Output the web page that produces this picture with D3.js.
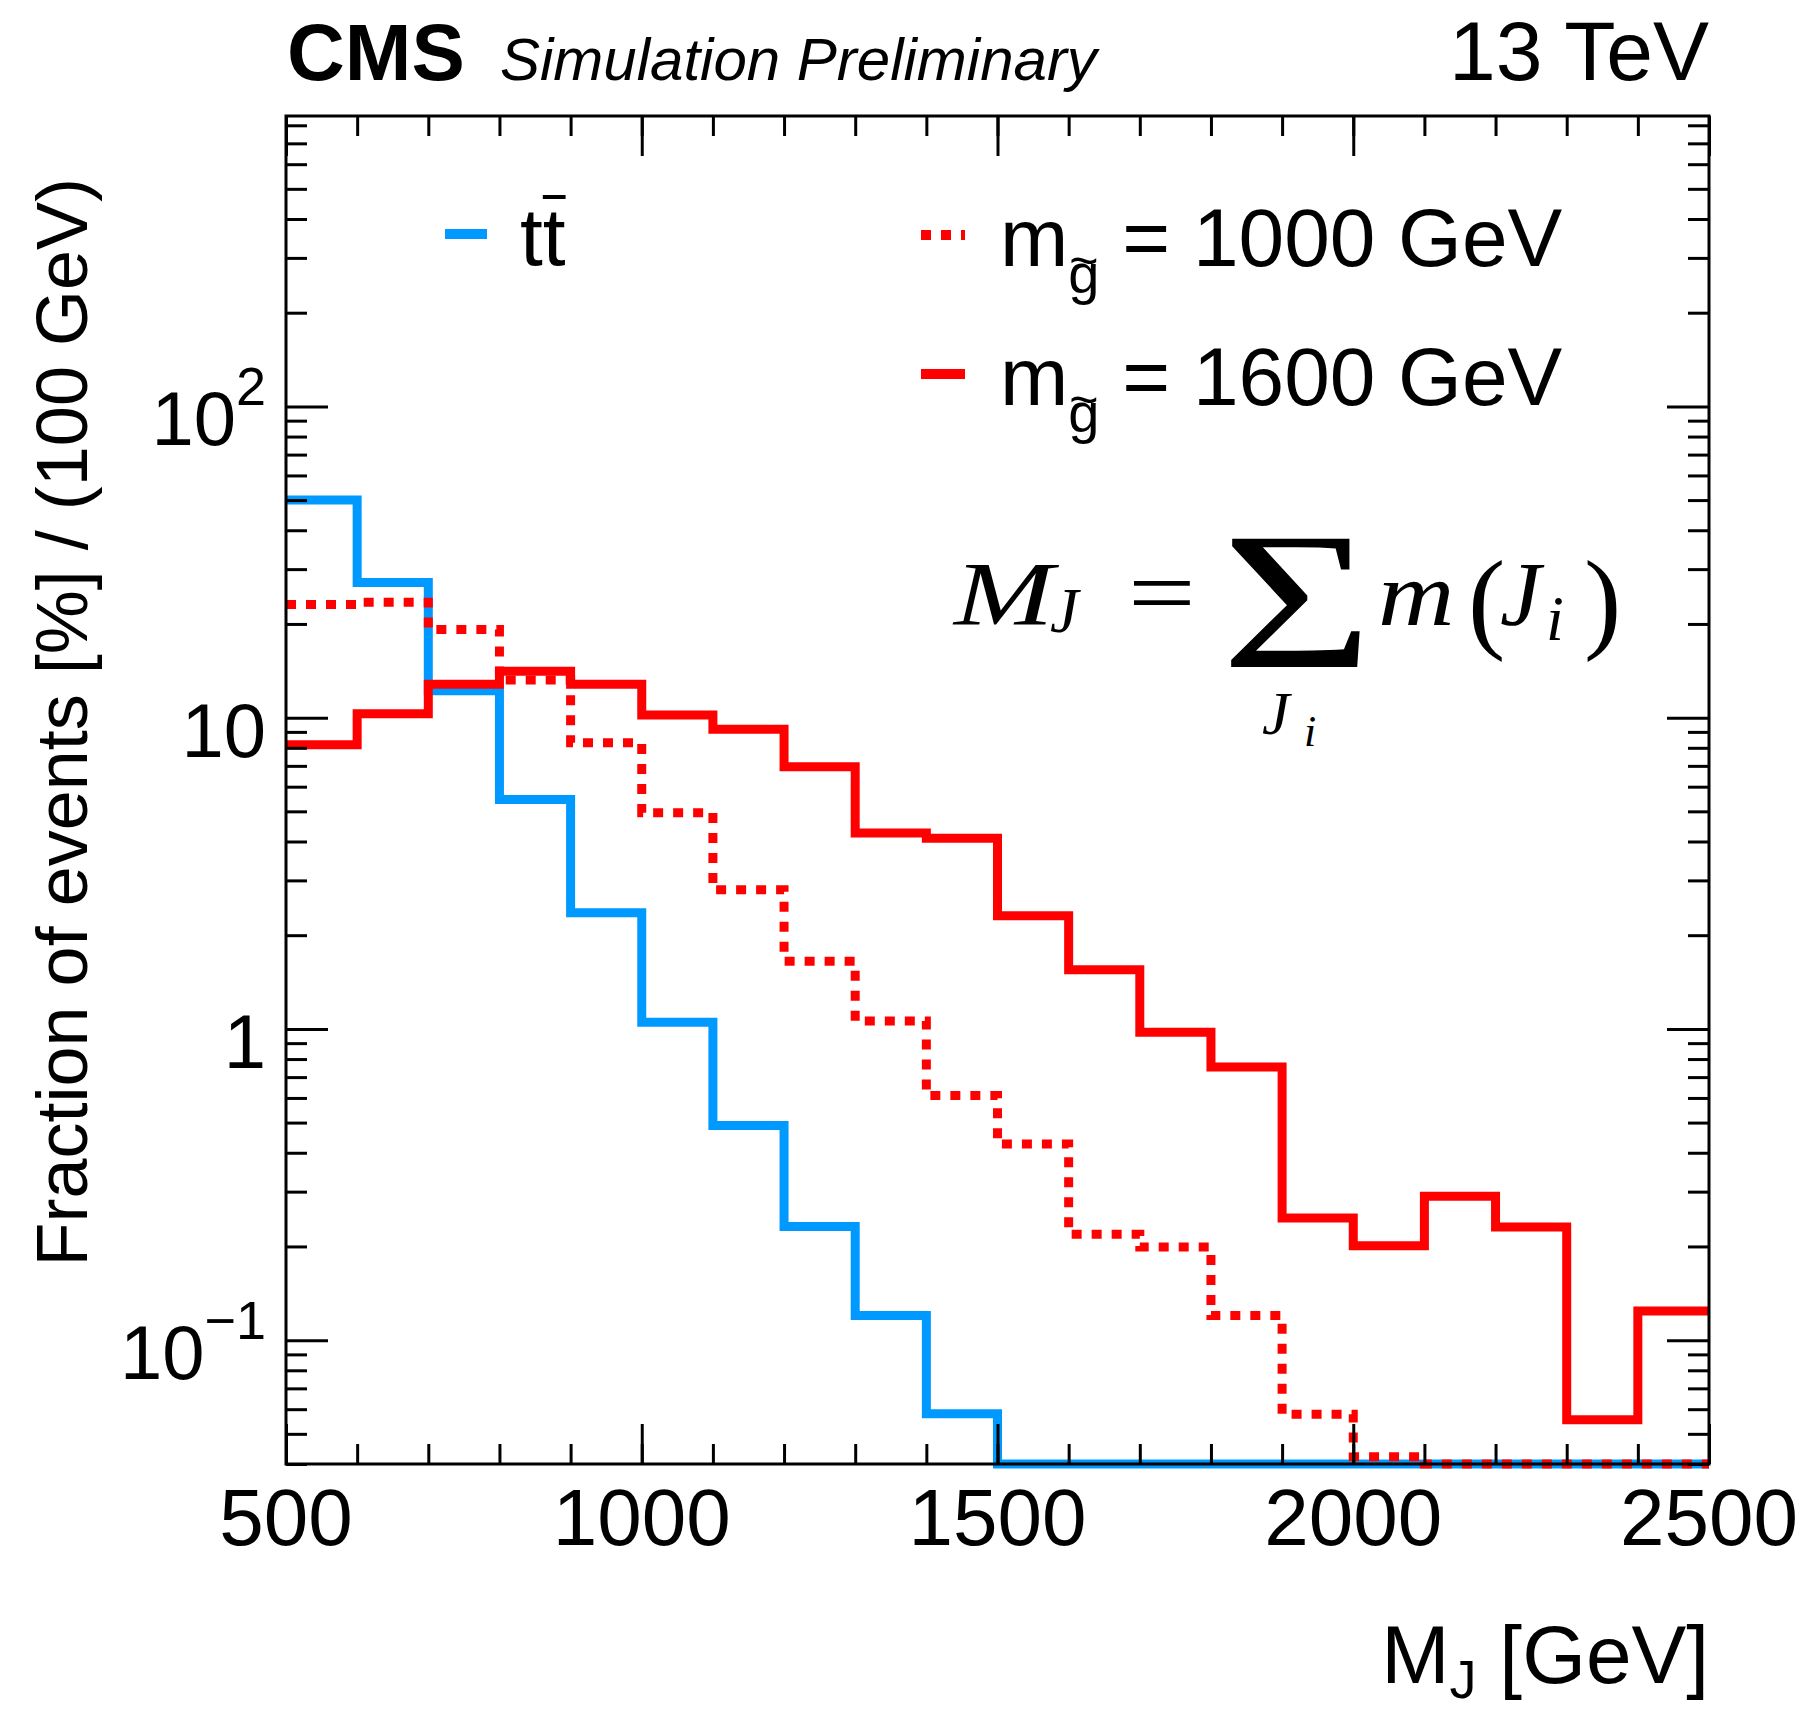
<!doctype html>
<meta charset="utf-8">
<style>
    body { margin: 0; background: #fff; }
    svg text { font-family: "Liberation Sans", Arial, sans-serif; fill: #000; }
    svg text.math { font-family: "Liberation Serif", "DejaVu Serif", serif; }
</style>
<body>
<script src="https://d3js.org/d3.v7.min.js"></script>
<script>
    // bin edges of M_J [GeV], 100 GeV bins
    const binEdges = [500, 600, 700, 800, 900, 1000, 1100, 1200, 1300, 1400, 1500,
                      1600, 1700, 1800, 1900, 2000, 2100, 2200, 2300, 2400, 2500];
    // fraction of events [%] per bin (0 = empty bin, drawn on the frame bottom)
    const ttbar = [50.0, 27.2, 12.2, 5.46, 2.36, 1.05, 0.489, 0.232, 0.120, 0.058,
                   0, 0, 0, 0, 0, 0, 0, 0, 0, 0];
    const gluino1000 = [23.1, 23.5, 19.2, 13.2, 8.3, 4.95, 2.80, 1.65, 1.06, 0.611,
                        0.427, 0.219, 0.199, 0.120, 0.0578, 0.0422, 0, 0, 0, 0];
    const gluino1600 = [8.18, 10.3, 12.8, 14.1, 12.8, 10.2, 9.18, 6.96, 4.26, 4.10,
                        2.31, 1.55, 0.975, 0.755, 0.247, 0.201, 0.290, 0.231, 0.0555, 0.124];
    const xTickLabels = [500, 1000, 1500, 2000, 2500];
    const yTickLabels = [[100, '10', '2'], [10, '10', ''], [1, '1', ''], [0.1, '10', '\u22121']];
    const yRange = [0.04, 857];

    const margin = {top: 116, right: 105, bottom: 246, left: 286};
    const width = 1814 - margin.left - margin.right;
    const height = 1710 - margin.top - margin.bottom;

    const x = d3.scaleLinear().domain([500, 2500]).range([0, width]);
    const y = d3.scaleLog().domain(yRange).range([height, 0]);

    const root = d3.select('body').append('svg')
        .attr('width', 1814)
        .attr('height', 1710);
    const svg = root.append('g')
        .attr('transform', `translate(${margin.left}, ${margin.top})`);

    // step histogram, values under the axis minimum sit on the bottom
    const steps = vals => {
        const pts = [];
        vals.forEach((v, i) => {
            const c = Math.max(v, yRange[0]);
            pts.push([binEdges[i], c], [binEdges[i + 1], c]);
        });
        return pts;
    };
    const line = d3.line().x(d => x(d[0])).y(d => y(d[1]));

    const series = [
        {vals: ttbar, color: '#0099ff', dash: null},
        {vals: gluino1000, color: '#ff0000', dash: '10 10'},
        {vals: gluino1600, color: '#ff0000', dash: null}
    ];
    series.forEach(s => {
        svg.append('path')
            .attr('d', line(steps(s.vals)))
            .attr('fill', 'none')
            .attr('stroke', s.color)
            .attr('stroke-width', 9)
            .attr('stroke-dasharray', s.dash)
            .attr('stroke-linejoin', 'miter');
    });

    // ticks on all four sides, pointing inwards
    const xMinor = x.ticks(20), xMajor = x.ticks(4);
    const yAll = y.ticks();
    const yMajor = yAll.filter(v => Math.abs(Math.log10(v) - Math.round(Math.log10(v))) < 1e-9);
    const yMinor = yAll.filter(v => !yMajor.includes(v));

    const addAxis = (axis, transform) => {
        const g = svg.append('g').attr('transform', transform).call(axis);
        g.select('.domain').remove();
        g.selectAll('line').attr('stroke', '#000').attr('stroke-width', 3);
    };
    addAxis(d3.axisBottom(x).tickValues(xMinor).tickSize(-20).tickFormat(''), `translate(0, ${height})`);
    addAxis(d3.axisBottom(x).tickValues(xMajor).tickSize(-40).tickFormat(''), `translate(0, ${height})`);
    addAxis(d3.axisTop(x).tickValues(xMinor).tickSize(-20).tickFormat(''), 'translate(0, 0)');
    addAxis(d3.axisTop(x).tickValues(xMajor).tickSize(-40).tickFormat(''), 'translate(0, 0)');
    addAxis(d3.axisLeft(y).tickValues(yMinor).tickSize(-21).tickFormat(''), 'translate(0, 0)');
    addAxis(d3.axisLeft(y).tickValues(yMajor).tickSize(-42).tickFormat(''), 'translate(0, 0)');
    addAxis(d3.axisRight(y).tickValues(yMinor).tickSize(-21).tickFormat(''), `translate(${width}, 0)`);
    addAxis(d3.axisRight(y).tickValues(yMajor).tickSize(-42).tickFormat(''), `translate(${width}, 0)`);

    svg.append('rect')
        .attr('width', width).attr('height', height)
        .attr('fill', 'none').attr('stroke', '#000').attr('stroke-width', 3);

    // tick labels
    svg.selectAll('.xlab').data(xTickLabels).enter().append('text')
        .attr('x', d => x(d)).attr('y', height + 81)
        .attr('text-anchor', 'middle').attr('font-size', 80)
        .text(d => d);
    yTickLabels.forEach(([v, base, sup]) => {
        const t = svg.append('text')
            .attr('x', -20).attr('y', y(v) + 39)
            .attr('text-anchor', 'end').attr('font-size', 76);
        t.append('tspan').text(base);
        if (sup) t.append('tspan').attr('font-size', 54).attr('dy', -40).text(sup);
    });

    // axis titles
    const xt = root.append('text').attr('x', 1709).attr('y', 1683)
        .attr('text-anchor', 'end').attr('font-size', 82);
    xt.append('tspan').text('M');
    xt.append('tspan').attr('font-size', 54).attr('dy', 15).text('J');
    xt.append('tspan').attr('dy', -15).text(' [GeV]');

    root.append('text')
        .attr('transform', 'translate(87, 178) rotate(-90)')
        .attr('text-anchor', 'end').attr('font-size', 72)
        .text('Fraction of events [%] / (100 GeV)');

    // header
    root.append('text').attr('x', 287).attr('y', 80)
        .attr('font-size', 80).attr('font-weight', 'bold').text('CMS');
    root.append('text').attr('x', 500).attr('y', 80)
        .attr('font-size', 60).attr('font-style', 'italic').text('Simulation Preliminary');
    root.append('text').attr('x', 1709).attr('y', 80)
        .attr('text-anchor', 'end').attr('font-size', 84).text('13 TeV');

    // legend
    const legend = root.append('g');
    legend.append('line').attr('x1', 445).attr('x2', 487).attr('y1', 234).attr('y2', 234)
        .attr('stroke', '#0099ff').attr('stroke-width', 10);
    const tt = legend.append('text').attr('x', 520).attr('y', 265).attr('font-size', 82).text('tt');
    const tw = tt.node().getComputedTextLength() / 2;
    legend.append('line').attr('x1', 520 + tw).attr('x2', 520 + 2 * tw)
        .attr('y1', 197).attr('y2', 197).attr('stroke', '#000').attr('stroke-width', 4);

    [[235, 266, '10 10', '1000'], [374, 405, null, '1600']].forEach(([ly, by, dash, mass]) => {
        legend.append('line').attr('x1', 921).attr('x2', 965).attr('y1', ly).attr('y2', ly)
            .attr('stroke', '#ff0000').attr('stroke-width', 10).attr('stroke-dasharray', dash);
        const t = legend.append('text').attr('x', 1000).attr('y', by).attr('font-size', 82);
        t.append('tspan').text('m');
        t.append('tspan').attr('font-size', 56).attr('dy', 27).text('g');
        t.append('tspan').attr('dy', -27).text(` = ${mass} GeV`);
        const g0 = t.node().getStartPositionOfChar(1).x;
        const g1 = t.node().getEndPositionOfChar(1).x;
        legend.append('text').attr('x', (g0 + g1) / 2).attr('y', by + 12)
            .attr('text-anchor', 'middle').attr('font-size', 50).text('~');
    });

    // formula M_J = sum_{J_i} m(J_i)
    const math = (tx, ty, size, txt, italic, sx = 1) => root.append('text').attr('class', 'math')
        .attr('transform', `translate(${tx}, ${ty}) scale(${sx}, 1)`).attr('font-size', size)
        .attr('font-style', italic ? 'italic' : 'normal').text(txt);
    math(954, 625, 92, 'M', true, 1.3);
    math(1050, 632, 64, 'J', true);
    math(1128, 625, 96, '=', false, 1.25);
    math(1221, 667, 196, '\u03A3', false, 1.33);
    math(1378, 625, 92, 'm', true, 1.15);
    math(1468, 638, 112, '(', false);
    math(1500, 625, 92, 'J', true);
    math(1546, 640, 64, 'i', true);
    math(1584, 638, 112, ')', false);
    math(1262, 734, 62, 'J', true);
    math(1304, 746, 44, 'i', true);
</script>
